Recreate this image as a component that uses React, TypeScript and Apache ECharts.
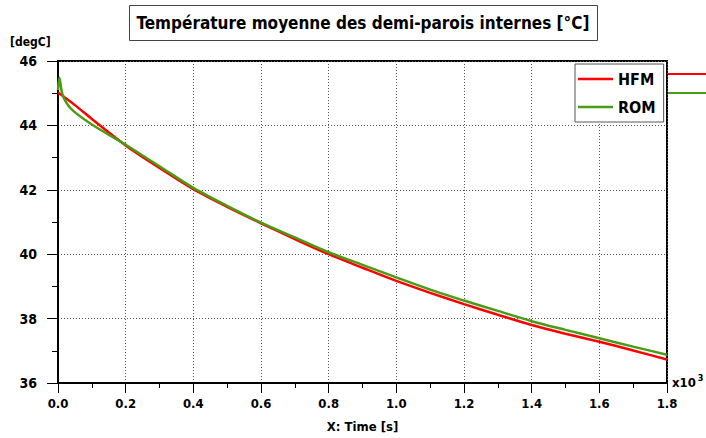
import React, { useEffect, useRef } from "react";
import * as echarts from "echarts";

const FONT = "'DejaVu Sans Condensed', 'DejaVu Sans', sans-serif";

const titleText = "Température moyenne des demi-parois internes [°C]";
const yUnit = "[degC]";
const xName = "X: Time [s]";
const seriesNames = ["HFM", "ROM"];

// time in units of 10^3 s
const hfmTime = [0, 0.05, 0.1, 0.2, 0.3, 0.4, 0.5, 0.6, 0.7, 0.8, 0.9, 1.0, 1.1, 1.2, 1.3, 1.4, 1.5, 1.6, 1.7, 1.8];
const hfmValues = [45.02, 44.63, 44.2, 43.38, 42.68, 42.02, 41.47, 40.96, 40.47, 40.0, 39.58, 39.17, 38.8, 38.45, 38.12, 37.8, 37.53, 37.28, 37.01, 36.73];

const romTime = [0, 0.004, 0.012, 0.025, 0.045, 0.1, 0.2, 0.3, 0.4, 0.5, 0.6, 0.7, 0.8, 0.9, 1.0, 1.1, 1.2, 1.3, 1.4, 1.5, 1.6, 1.7, 1.8];
const romValues = [45.1, 45.48, 45.0, 44.7, 44.45, 44.03, 43.4, 42.73, 42.06, 41.5, 40.98, 40.52, 40.06, 39.67, 39.28, 38.9, 38.56, 38.24, 37.92, 37.65, 37.39, 37.13, 36.88];

const RED = "#ff0000";
const GREEN = "#4a9c14";

export default function App() {
  const ref = useRef<HTMLDivElement>(null);
  useEffect(() => {
    document.body.style.margin = "0";
    const chart = echarts.init(ref.current!, null, { renderer: "svg" });
    const hfm = hfmTime.map((t, i) => [t, hfmValues[i]]);
    const rom = romTime.map((t, i) => [t, romValues[i]]);
    chart.setOption({
      animation: false,
      backgroundColor: "#fff",
      grid: {
        left: 58,
        top: 61,
        width: 609,
        height: 330,
        show: true,
        borderColor: "#000",
        borderWidth: 2,
        backgroundColor: "transparent",
      },
      xAxis: {
        type: "value",
        min: 0,
        max: 1.8,
        interval: 0.2,
        name: xName,
        nameLocation: "middle",
        nameGap: 37,
        nameTextStyle: { fontFamily: FONT, fontWeight: "bold", fontSize: 13, color: "#000" },
        axisLine: { show: true, onZero: false, lineStyle: { color: "#000", width: 2 } },
        axisTick: { show: true, inside: false, length: 10, lineStyle: { color: "#000", width: 1 } },
        minorTick: { show: true, splitNumber: 2, length: 5, lineStyle: { color: "#000", width: 1 } },
        axisLabel: {
          margin: 14,
          fontFamily: FONT,
          fontWeight: "bold",
          fontSize: 13,
          color: "#000",
          showMinLabel: true,
          showMaxLabel: true,
          formatter: (v: number) => v.toFixed(1),
        },
        splitLine: { show: true, lineStyle: { color: "#555", width: 1, type: [1, 2] } },
      },
      yAxis: {
        type: "value",
        min: 36,
        max: 46,
        interval: 2,
        axisLine: { show: true, onZero: false, lineStyle: { color: "#000", width: 2 } },
        axisTick: { show: true, inside: false, length: 11, lineStyle: { color: "#000", width: 1 } },
        minorTick: { show: true, splitNumber: 2, length: 6, lineStyle: { color: "#000", width: 1 } },
        axisLabel: {
          margin: 21,
          fontFamily: FONT,
          fontWeight: "bold",
          fontSize: 14,
          color: "#000",
        },
        splitLine: { show: true, lineStyle: { color: "#555", width: 1, type: [1, 2] } },
      },
      legend: {
        data: seriesNames,
        orient: "vertical",
        left: 575,
        top: 64,
        padding: [5, 8, 5, 3],
        icon: "rect",
        itemWidth: 35,
        itemHeight: 2.5,
        itemGap: 8,
        borderColor: "#555",
        borderWidth: 1,
        backgroundColor: "#fff",
        textStyle: { fontFamily: FONT, fontWeight: "bold", fontSize: 16, color: "#000", lineHeight: 20 },
      },
      series: [
        {
          name: seriesNames[0],
          type: "line",
          data: hfm,
          symbol: "none",
          smooth: 0.3,
          lineStyle: { color: RED, width: 2.5 },
          itemStyle: { color: RED },
          z: 3,
        },
        {
          name: seriesNames[1],
          type: "line",
          data: rom,
          symbol: "none",
          smooth: 0.3,
          lineStyle: { color: GREEN, width: 2.5 },
          itemStyle: { color: GREEN },
          z: 4,
        },
      ],
      graphic: [
        {
          type: "rect",
          shape: { x: 129.5, y: 5.5, width: 468, height: 35 },
          style: { fill: "#fff", stroke: "#444", lineWidth: 1 },
        },
        {
          type: "text",
          x: 363,
          y: 23,
          style: {
            text: titleText,
            fontFamily: FONT,
            fontWeight: "bold",
            fontSize: 17,
            fill: "#000",
            textAlign: "center",
            textVerticalAlign: "middle",
          },
        },
        {
          type: "text",
          x: 10,
          y: 42,
          style: {
            text: yUnit,
            fontFamily: FONT,
            fontWeight: "bold",
            fontSize: 12,
            fill: "#000",
            textAlign: "left",
            textVerticalAlign: "middle",
          },
        },
        {
          type: "text",
          x: 672,
          y: 382,
          style: {
            text: "{a|x10}{b|3}",
            rich: {
              a: { fontFamily: FONT, fontWeight: "bold", fontSize: 13, fill: "#000", color: "#000" },
              b: { fontFamily: FONT, fontWeight: "bold", fontSize: 9, fill: "#000", color: "#000", verticalAlign: "top", padding: [0, 0, 8, 2] },
            },
            textAlign: "left",
            textVerticalAlign: "middle",
          },
        },
        {
          type: "line",
          shape: { x1: 668, y1: 74, x2: 706, y2: 74 },
          style: { stroke: RED, lineWidth: 2 },
        },
        {
          type: "line",
          shape: { x1: 668, y1: 93, x2: 706, y2: 93 },
          style: { stroke: GREEN, lineWidth: 2 },
        },
      ],
    });
    return () => chart.dispose();
  }, []);
  return <div ref={ref} style={{ width: 706, height: 438 }} />;
}
